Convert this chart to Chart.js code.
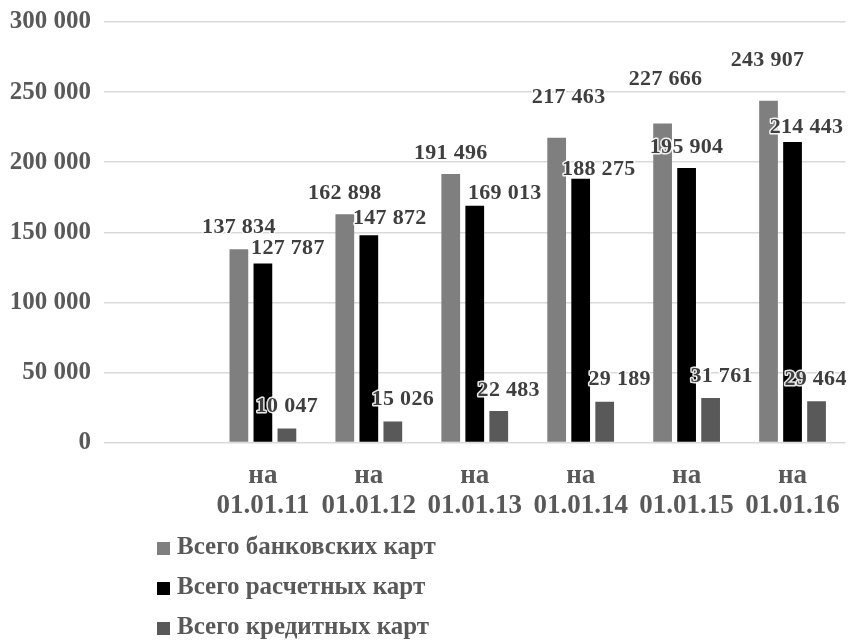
<!DOCTYPE html>
<html lang="ru">
<head>
<meta charset="utf-8">
<title>Банковские карты</title>
<script src="https://cdn.jsdelivr.net/npm/chart.js@4/dist/chart.umd.min.js"></script>
<style>
  html, body { margin: 0; padding: 0; background: #ffffff; }
  #wrap { width: 851px; height: 641px; position: relative; }
</style>
</head>
<body>
<div id="wrap"><canvas id="cards" width="851" height="641"></canvas></div>
<script>
// Reporting dates (the chart keeps an empty slot before the first one)
const periods = ['01.01.11', '01.01.12', '01.01.13', '01.01.14', '01.01.15', '01.01.16'];

// Number of cards, thousands
const bankCards   = [137834, 162898, 191496, 217463, 227666, 243907];
const debitCards  = [127787, 147872, 169013, 188275, 195904, 214443];
const creditCards = [10047, 15026, 22483, 29189, 31761, 29464];

const seriesNames = ['Всего банковских карт', 'Всего расчетных карт', 'Всего кредитных карт'];

// Y axis range and step
const yMax = 300000;
const yStep = 50000;

// Hand-placed offsets for the value labels (dx, dy from the top centre of each bar)
const labelNudge = [
  [[0, -22], [0, -21], [0, -21], [12, -40], [3, -44], [-1, -40]],
  [[25, -15], [21, -17], [30, -12], [18, -9], [0, -21], [14, -15]],
  [[0, -22], [10, -22], [10, -21], [15, -22], [11, -22], [-1, -22]]
];

const colors = ['#7f7f7f', '#000000', '#595959'];
const serif = '"Liberation Serif", "Times New Roman", serif';
const textGray = '#595959';

const fmt = v => String(v).replace(/\B(?=(\d{3})+(?!\d))/g, ' ');

const labels = [''].concat(periods.map(p => ['на', p]));
const withGap = arr => [null].concat(arr);

const valueLabels = {
  id: 'valueLabels',
  afterDatasetsDraw(chart) {
    const ctx = chart.ctx;
    ctx.save();
    ctx.font = 'bold 22px ' + serif;
    ctx.letterSpacing = '0.3px';
    ctx.textAlign = 'center';
    ctx.textBaseline = 'middle';
    ctx.lineJoin = 'round';
    chart.data.datasets.forEach((ds, di) => {
      const meta = chart.getDatasetMeta(di);
      meta.data.forEach((bar, i) => {
        const v = ds.data[i];
        if (v == null) return;
        const n = labelNudge[di][i - 1];
        const x = bar.x + n[0];
        const y = bar.y + n[1];
        const t = fmt(v);
        ctx.lineWidth = 3;
        ctx.strokeStyle = 'rgba(255,255,255,0.9)';
        ctx.strokeText(t, x, y);
        ctx.fillStyle = '#3f3f3f';
        ctx.fillText(t, x, y);
      });
    });
    ctx.restore();
  }
};

const stackedLegend = {
  id: 'stackedLegend',
  afterDraw(chart) {
    const ctx = chart.ctx;
    ctx.save();
    ctx.font = 'bold 25px ' + serif;
    ctx.textAlign = 'left';
    ctx.textBaseline = 'middle';
    const top = chart.height - 93;
    chart.data.datasets.forEach((ds, i) => {
      const cy = top + i * 40;
      ctx.fillStyle = ds.backgroundColor;
      ctx.fillRect(157, cy - 6, 13, 13);
      ctx.fillStyle = textGray;
      ctx.fillText(ds.label, 177, cy);
    });
    ctx.restore();
  }
};

new Chart(document.getElementById('cards'), {
  type: 'bar',
  data: {
    labels: labels,
    datasets: [
      { label: seriesNames[0], data: withGap(bankCards),   backgroundColor: colors[0] },
      { label: seriesNames[1], data: withGap(debitCards),  backgroundColor: colors[1] },
      { label: seriesNames[2], data: withGap(creditCards), backgroundColor: colors[2] }
    ]
  },
  options: {
    responsive: false,
    animation: false,
    devicePixelRatio: 1,
    layout: { padding: { top: 22, right: 3, bottom: 109, left: 8 } },
    datasets: { bar: { categoryPercentage: 0.68, barPercentage: 0.78 } },
    plugins: {
      legend: { display: false },
      tooltip: { enabled: false }
    },
    scales: {
      x: {
        grid: { display: false },
        border: { display: false },
        ticks: {
          color: textGray,
          padding: 11,
          maxRotation: 0,
          autoSkip: false,
          font: { family: serif, size: 27, weight: 'bold', lineHeight: 1.1 }
        }
      },
      y: {
        min: 0,
        max: yMax,
        afterFit(scale) { scale.width = 96; scale.paddingTop = 0; },
        grid: { color: '#d9d9d9', lineWidth: 1.5, drawTicks: false },
        border: { display: false },
        ticks: {
          stepSize: yStep,
          padding: 13,
          color: textGray,
          font: { family: serif, size: 25, weight: 'bold' },
          callback: v => fmt(v)
        }
      }
    }
  },
  plugins: [valueLabels, stackedLegend]
});
</script>
</body>
</html>
